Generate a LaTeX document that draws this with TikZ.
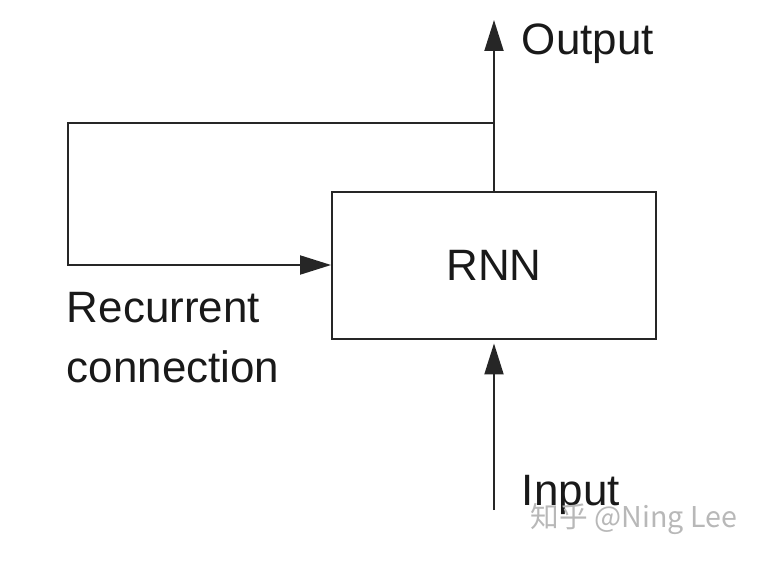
\documentclass[tikz,border=0pt]{standalone}
\usepackage{fontspec}
\setmainfont{Liberation Sans}
\newfontfamily\cjk{Noto Sans CJK SC}
\usetikzlibrary{arrows.meta}
\begin{document}
\begin{tikzpicture}[x=0.02cm,y=-0.02cm,line width=1.1pt,draw=black!85,
	arr/.style={-{Triangle[length=0.62cm,width=0.38cm]}},
	lbl/.style={font=\fontsize{25}{34}\selectfont,inner sep=0pt,text=black!90}]
				\useasboundingbox (0,0) rectangle (760,565);
				\node[draw,lbl,minimum width=6.48cm,minimum height=2.94cm](rnn) at (494,265.5){RNN};
				\coordinate(out) at (494,20);
				\coordinate(tap) at (494,123);
				\coordinate(loopt) at (68,123);
				\coordinate(loopb) at (68,265);
				\coordinate(in) at (494,510);
				\draw[arr](rnn.north) to (out);
				\draw[arr](tap) to (loopt) to (loopb) to (loopb -| rnn.west);
				\draw[arr,shorten >=2pt](in) to (rnn.south);
				\node[lbl,anchor=base west](outl) at (521,54){Output};
				\node[lbl,anchor=base west](inl) at (521,505){Input};
				\node[lbl,anchor=base west,align=left](recl) at (66,382){Recurrent\\connection};
				\node[inner sep=0pt,anchor=west,text=black!28,font=\cjk\fontsize{16.3}{19}\selectfont](mark) at (530,519){知乎 @Ning Lee};
			\end{tikzpicture}
\end{document}
